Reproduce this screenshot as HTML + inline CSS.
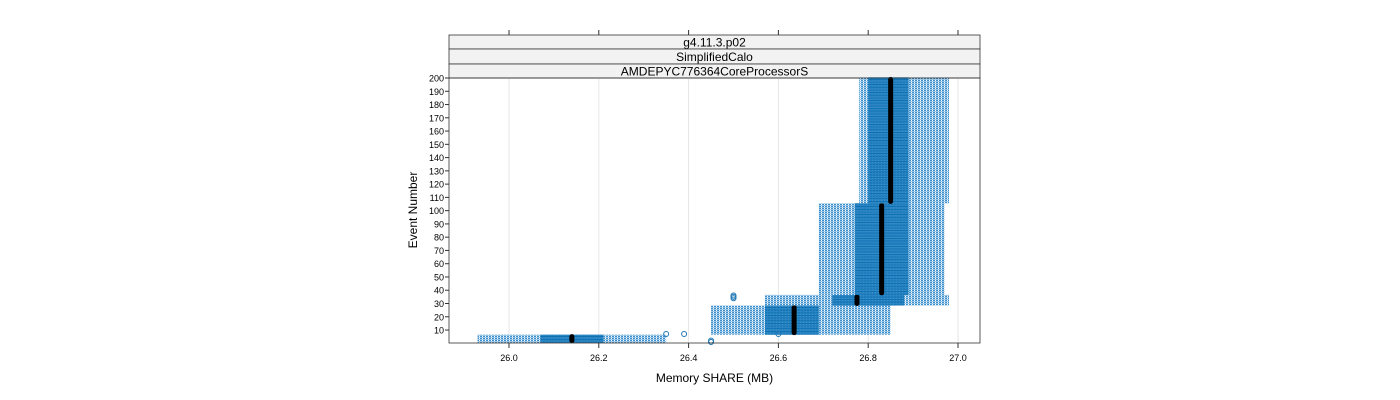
<!DOCTYPE html>
<html><head><meta charset="utf-8"><style>
body{margin:0;background:#fff;}
svg{display:block;font-family:"Liberation Sans",sans-serif;}
</style></head><body>
<svg id="chart" width="1400" height="400" viewBox="0 0 1400 400" xmlns="http://www.w3.org/2000/svg">
<defs>
<pattern id="wpat" width="3" height="2" patternUnits="userSpaceOnUse">
<rect width="3" height="2" fill="#3b8fcc"/>
<rect x="2" width="1" height="2" fill="#ffffff"/>
<rect y="1" width="3" height="1" fill="#9cc7e6"/>
</pattern>
</defs>
<g id="strips">
<rect x="449" y="35" width="531" height="14" fill="#f2f2f2" stroke="#333" stroke-width="0.8"/>
<text x="714.5" y="46.5" font-size="12" text-anchor="middle">g4.11.3.p02</text>
<rect x="449" y="49" width="531" height="15" fill="#f2f2f2" stroke="#333" stroke-width="0.8"/>
<text x="714.5" y="61" font-size="12" text-anchor="middle">SimplifiedCalo</text>
<rect x="449" y="64" width="531" height="14" fill="#f2f2f2" stroke="#333" stroke-width="0.8"/>
<text x="714.5" y="75.5" font-size="12" text-anchor="middle">AMDEPYC776364CoreProcessorS</text>
</g>
<g id="grid"></g>
<g id="marks"></g>
<rect x="449" y="78" width="531" height="265" fill="none" stroke="#333" stroke-width="0.8"/>
<g id="axes"></g>
<text x="714.5" y="382" font-size="12" text-anchor="middle">Memory SHARE (MB)</text>
<text transform="translate(417,210) rotate(-90)" font-size="12" text-anchor="middle">Event Number</text>
</svg>
<script>
const segStart=[1,7,29,37,106];
const segEnd=[6,28,36,105,200];
const segLo=[25.93,26.45,26.57,26.69,26.78];
const segQ1=[26.07,26.57,26.72,26.77,26.80];
const segMed=[26.14,26.635,26.775,26.83,26.85];
const segQ3=[26.21,26.69,26.88,26.89,26.89];
const segHi=[26.35,26.85,26.98,26.97,26.98];
const outX=[26.35,26.39,26.45,26.45,26.50,26.50,26.50,26.60];
const outY=[7,7,2,1,35,36,34,7];
const xTicks=[26.0,26.2,26.4,26.6,26.8,27.0];
const yTicks=[10,20,30,40,50,60,70,80,90,100,110,120,130,140,150,160,170,180,190,200];
const NS="http://www.w3.org/2000/svg";
const X=v=>509+(v-26.0)*449;
const Y=e=>343.3-e*(343.3-78)/200;
function mk(tag,at,parent){const e=document.createElementNS(NS,tag);for(const k in at)e.setAttribute(k,at[k]);parent.appendChild(e);return e;}
const grid=document.getElementById('grid'),marks=document.getElementById('marks'),axes=document.getElementById('axes');
xTicks.forEach(t=>{
 const g=mk('line',{x1:X(t),x2:X(t),y1:78,y2:343,stroke:'#e6e6e6','stroke-width':1},grid);
 
 
 const a=mk('line',{x1:X(t),x2:X(t),y1:343,y2:348,stroke:'#333'},axes);
 
 
 const b=mk('line',{x1:X(t),x2:X(t),y1:30,y2:35,stroke:'#333'},axes);
 
 
 const l=mk('text',{x:X(t),y:361,'font-size':9,'text-anchor':'middle'},axes);
 l.textContent=t.toFixed(1);
 
 
});
yTicks.forEach(t=>{
 const a=mk('line',{x1:445,x2:449,y1:Y(t),y2:Y(t),stroke:'#333'},axes);
 
 
 const l=mk('text',{x:444,y:Y(t)+3.5,'font-size':9,'text-anchor':'end'},axes);
 l.textContent=t;
 
 
});
const rh=(343.3-78)/200;
for(let s=0;s<segStart.length;s++){
 const yTop=Y(segEnd[s]+0.5),yBot=Y(segStart[s]-0.5);
 const w=mk('rect',{x:X(segLo[s]),y:yTop,width:X(segHi[s])-X(segLo[s]),height:yBot-yTop,fill:'url(#wpat)'},marks);
 
 
 for(let e=segStart[s];e<=segEnd[s];e++){
  const r=mk('rect',{x:X(segQ1[s]),y:Y(e+0.5),width:X(segQ3[s])-X(segQ1[s]),height:rh,fill:(e%2?'#0e72b5':'#2a85c2')},marks);
  
  
 }
 const m=mk('line',{x1:X(segMed[s]),x2:X(segMed[s]),y1:yTop+2,y2:yBot-2,stroke:'#000','stroke-width':5,'stroke-linecap':'round'},marks);
 
 
}
for(let i=0;i<outX.length;i++){
 const c=mk('circle',{cx:X(outX[i]),cy:Y(outY[i]),r:2.5,fill:'none',stroke:'#1f77b4','stroke-width':1},marks);
 
 
}
</script>
</body></html>
